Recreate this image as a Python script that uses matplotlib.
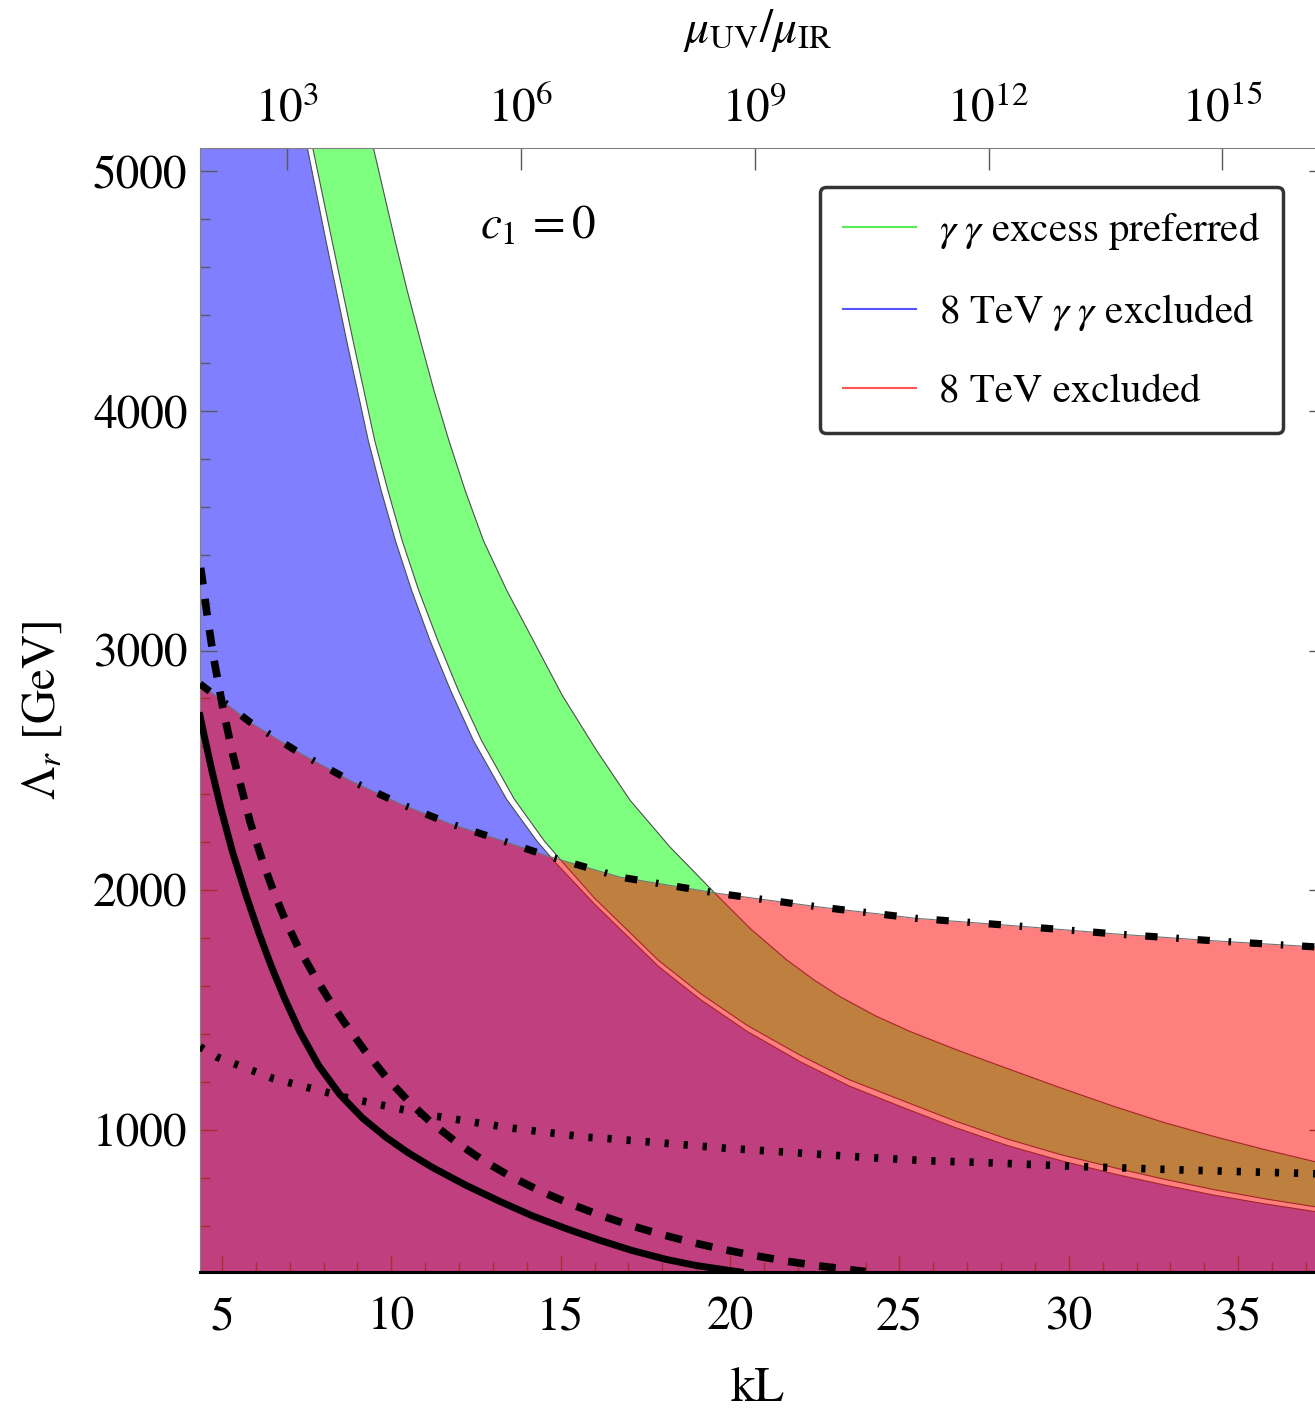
import numpy as np
import matplotlib
matplotlib.use('Agg')
import matplotlib.pyplot as plt
from matplotlib.ticker import MultipleLocator
from matplotlib.lines import Line2D

plt.rcParams['font.family'] = ['STIXGeneral', 'Liberation Serif', 'DejaVu Serif']
plt.rcParams['mathtext.fontset'] = 'stix'

XLIM = (4.35, 37.27)
YLIM = (408, 5096)

# 8 TeV gamma gamma excluded (region left of / below this edge)
blue_kL = [7.52, 8.07, 8.68, 9.32, 9.7, 10.12, 10.6, 11.14, 11.75, 12.42, 13.4, 14.3, 14.85,
           16.0, 17.9, 19.1, 20.5, 22.07, 23.5, 25.0, 26.6, 28.2, 29.8, 31.4, 32.85, 34.3,
           35.8, 37.27]
blue_L = [5096, 4708, 4292, 3875, 3667, 3458, 3250, 3042, 2833, 2625, 2380, 2205, 2115,
          1942, 1681, 1547, 1412, 1285, 1185, 1100, 1013, 935, 871, 815, 770, 728,
          692, 660]

# gamma gamma excess preferred band
green_lo_kL = [7.68, 8.25, 8.87, 9.51, 9.9, 10.32, 10.81, 11.37, 11.98, 12.66, 13.63, 14.52,
               15.07, 16.0, 17.9, 19.1, 20.5, 22.07, 23.5, 25.0, 26.6, 28.2, 29.8, 31.4,
               32.85, 34.3, 35.8, 37.27]
green_lo_L = [5096, 4708, 4292, 3875, 3667, 3458, 3250, 3042, 2833, 2625, 2380, 2205,
              2115, 1967, 1706, 1572, 1437, 1312, 1211, 1128, 1040, 962, 896, 841,
              794, 751, 713, 680]
green_hi_kL = [9.47, 10.11, 10.47, 10.86, 11.26, 11.70, 12.18, 12.72, 13.41, 14.19, 15.05,
               16.06, 17.05, 18.23, 19.56, 20.6, 21.67, 22.5, 23.25, 24.3, 25.3, 26.7,
               28.2, 29.8, 31.37, 32.8, 34.32, 35.8, 37.27]
green_hi_L = [5096, 4708, 4500, 4292, 4083, 3875, 3667, 3458, 3250, 3042, 2812,
              2583, 2375, 2180, 1987, 1840, 1710, 1624, 1556, 1476, 1412, 1334,
              1256, 1174, 1097, 1032, 972, 918, 868]

# 8 TeV excluded (below dash-dot curve)
dd_kL = [4.35, 5.83, 7.3, 8.78, 10.26, 11.73, 13.21, 14.68, 16.75, 19.7, 22.66, 25.5,
         28.41, 31.37, 34.32, 37.27]
dd_L = [2861, 2701, 2572, 2458, 2361, 2278, 2210, 2140, 2055, 1986, 1930, 1883,
        1852, 1818, 1789, 1764]

solid_kL = [4.35, 4.5, 4.7, 4.97, 5.3, 5.72, 6.1, 6.45, 6.85, 7.3, 7.85, 8.48, 9.15, 9.86,
            10.5, 11.24, 12.2, 13.21, 14.2, 15.18, 16.16, 17.1, 18.13, 19.0, 19.9, 20.3]
solid_L = [2728, 2628, 2500, 2340, 2165, 1975, 1818, 1685, 1548, 1410, 1270, 1148, 1050, 968,
           905, 842, 770, 702, 640, 588, 540, 498, 460, 435, 416, 408]

dashed_kL = [4.37, 4.55, 4.74, 5.04, 5.33, 5.83, 6.2, 6.51, 6.86, 7.25, 7.7, 8.15, 8.58, 9.2,
             9.86, 10.5, 11.14, 11.9, 12.71, 13.5, 14.39, 15.3, 16.16, 17.0, 17.83, 18.8,
             19.7, 20.7, 21.67, 22.6, 23.44, 24.0]
dashed_L = [3345, 3160, 2980, 2750, 2560, 2285, 2120, 2000, 1878, 1762, 1650, 1546, 1455, 1334,
            1218, 1121, 1036, 951, 873, 808, 746, 691, 645, 605, 570, 534,
            505, 477, 453, 434, 419, 410]

dotted_kL = [4.35, 4.84, 6.51, 8.78, 11.09, 13.45, 15.77, 16.36, 19.90, 24.03, 25.81,
             27.58, 30.53, 33.48, 37.27]
dotted_L = [1347, 1305, 1215, 1132, 1063, 1010, 970, 965, 924, 886, 872,
            864, 847, 833, 818]

top_exps = [3, 6, 9, 12, 15]
labels = [r'$\gamma\;\gamma$ excess preferred', r'8 TeV $\gamma\;\gamma$ excluded', '8 TeV excluded']

fig = plt.figure(figsize=(13.15, 14.16), dpi=100)
ax = fig.add_axes([200 / 1315, 1 - 1272 / 1416, 1115 / 1315, 1124 / 1416])
ax.set_xlim(XLIM)
ax.set_ylim(YLIM)

bx = np.concatenate([[XLIM[0]], blue_kL, [XLIM[1], XLIM[0]]])
by = np.concatenate([[YLIM[1]], blue_L, [YLIM[0], YLIM[0]]])
ax.fill(bx, by, color=(0, 0, 1), alpha=0.5, lw=0, zorder=1)
ax.plot(blue_kL, blue_L, color='0.3', lw=0.8, zorder=1.5)

gx = np.concatenate([green_lo_kL, green_hi_kL[::-1]])
gy = np.concatenate([green_lo_L, green_hi_L[::-1]])
ax.fill(gx, gy, color=(0, 1, 0), alpha=0.5, lw=0, zorder=1)
ax.plot(green_lo_kL, green_lo_L, color='0.3', lw=0.8, zorder=1.5)
ax.plot(green_hi_kL, green_hi_L, color='0.3', lw=0.8, zorder=1.5)

ax.fill_between(dd_kL, YLIM[0], dd_L, color=(1, 0, 0), alpha=0.5, lw=0, zorder=2)
ax.plot(dd_kL, dd_L, color='0.45', lw=0.8, zorder=3)

ax.plot(dd_kL, dd_L, color='k', lw=5.2, ls=(0, (1.7, 2.6, 0.35, 2.6)),
        dash_capstyle='butt', zorder=4)
ax.plot(solid_kL, solid_L, color='k', lw=5, zorder=4)
ax.plot(dashed_kL, dashed_L, color='k', lw=5.5, ls=(0, (2.2, 1.9)),
        dash_capstyle='butt', zorder=4)
ax.plot(dotted_kL, dotted_L, color='k', lw=5.5, ls=(0, (0.55, 1.95)),
        dash_capstyle='butt', zorder=4)

ax.text(12.62, 4717, r'$c_1\,=0$', fontsize=34, ha='left', va='baseline')

ax.set_xticks([5, 10, 15, 20, 25, 30, 35])
ax.xaxis.set_minor_locator(MultipleLocator(1))
ax.set_yticks([1000, 2000, 3000, 4000, 5000])
ax.yaxis.set_minor_locator(MultipleLocator(200))
ax.tick_params(which='both', direction='in', color='0.35', labelsize=34)
ax.tick_params(which='major', length=12, width=1)
ax.tick_params(which='minor', length=7, width=1)
ax.tick_params(axis='x', pad=18)
ax.tick_params(axis='y', pad=9)
for s in ['top', 'right']:
    ax.spines[s].set_visible(False)
ax.spines['left'].set_color('0.5')
ax.spines['bottom'].set_color('k')
ax.spines['bottom'].set_linewidth(2.2)

# right frame ticks, mostly cut off by the image edge
axr = ax.secondary_yaxis('right')
axr.set_yticks([1000, 2000, 3000, 4000, 5000])
axr.tick_params(direction='in', length=4, width=1, color='0.35', labelright=False)
axr.spines['right'].set_visible(False)

ax.set_xlabel('kL', fontsize=35, labelpad=20)
ax.set_ylabel(r'$\mathit{\Lambda}_r$ [GeV]', fontsize=34, labelpad=20)

ax2 = ax.twiny()
ax2.set_xlim(XLIM)
ax2.set_xticks([e * np.log(10) for e in top_exps])
ax2.set_xticklabels([r'$10^{%d}$' % e for e in top_exps])
ax2.tick_params(direction='in', length=16, width=1, color='0.35', labelsize=34, pad=12)
for s in ['bottom', 'left', 'right']:
    ax2.spines[s].set_visible(False)
ax2.spines['top'].set_color('0.5')
ax2.set_xlabel(r'$\mu_{\rm UV}/\mu_{\rm IR}$', fontsize=34, labelpad=32)

handles = [Line2D([], [], color=c, lw=1.5) for c in ['#55EE55', '#5555FF', '#FF5555']]
leg = ax.legend(handles, labels, loc='upper right', bbox_to_anchor=(0.971, 0.965),
                fontsize=29.5, frameon=True, fancybox=True, handlelength=1.8,
                handletextpad=0.55, labelspacing=0.98, borderpad=0.55, borderaxespad=0)
leg.get_frame().set_edgecolor('k')
leg.get_frame().set_linewidth(2.5)
leg.get_frame().set_boxstyle('round,pad=0,rounding_size=0.15')
leg.set_zorder(10)

fig.savefig('out.png', dpi=100)
